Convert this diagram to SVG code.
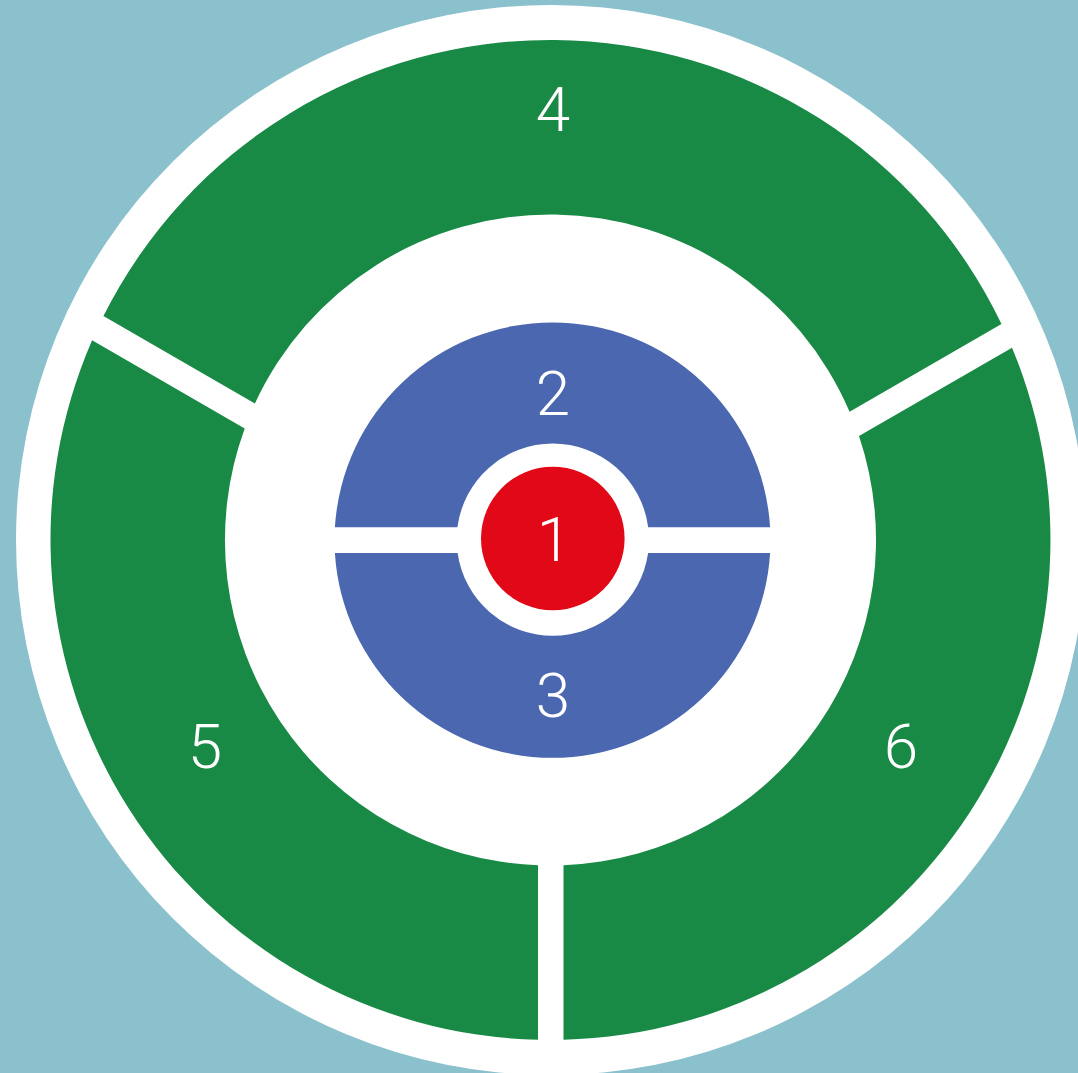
<svg xmlns="http://www.w3.org/2000/svg" width="1078" height="1073" viewBox="0 0 1078 1073">
<style>
.green{fill:#188A45}
.blue{fill:#4A67AF}
.red{fill:#E10818}
.white{fill:#FFFFFF}
.lbl{fill:#FFFFFF;font-family:Roboto,"Open Sans",Lato,"Liberation Sans",sans-serif;font-weight:300;font-size:62px;text-anchor:middle}
</style>
<rect x="0" y="0" width="1078" height="1073" fill="#8BC1CD"/>
<g id="frame">
<circle class="white" cx="551" cy="540" r="535"/>
</g>
<g id="connectors"></g>
<g id="node-4">
<path class="green" d="M103.4,316.1 A500,500 0 0 1 1001.5,324.1 L849.6,411.8 A325.5,325.5 0 0 0 254.9,403.6 Z"/>
<text class="lbl" x="553" y="131">4</text>
</g>
<g id="node-6">
<path class="green" d="M1012.0,347.7 A500,500 0 0 1 563.5,1039.8 L563.5,865.2 A325.5,325.5 0 0 0 859.0,436.1 Z"/>
<text class="lbl" x="901" y="768">6</text>
</g>
<g id="node-5">
<path class="green" d="M538,1039.8 A500,500 0 0 1 92.1,340.3 L244.7,428.4 A325.5,325.5 0 0 0 538,865.3 Z"/>
<text class="lbl" x="205" y="768">5</text>
</g>
<g id="node-2">
<path class="blue" d="M334.9,527.3 A218,218 0 0 1 770.1,527.3 L648.2,527.3 A96.2,96.2 0 0 0 457.4,527.3 Z"/>
<text class="lbl" x="553" y="415">2</text>
</g>
<g id="node-3">
<path class="blue" d="M334.9,553 L457.6,553 A96.2,96.2 0 0 0 648.1,553 L770.1,553 A218,218 0 0 1 334.9,553 Z"/>
<text class="lbl" x="553" y="717">3</text>
</g>
<g id="node-1">
<circle class="red" cx="552.8" cy="538.5" r="71.8"/>
<text class="lbl" x="554" y="561">1</text>
</g>
</svg>
